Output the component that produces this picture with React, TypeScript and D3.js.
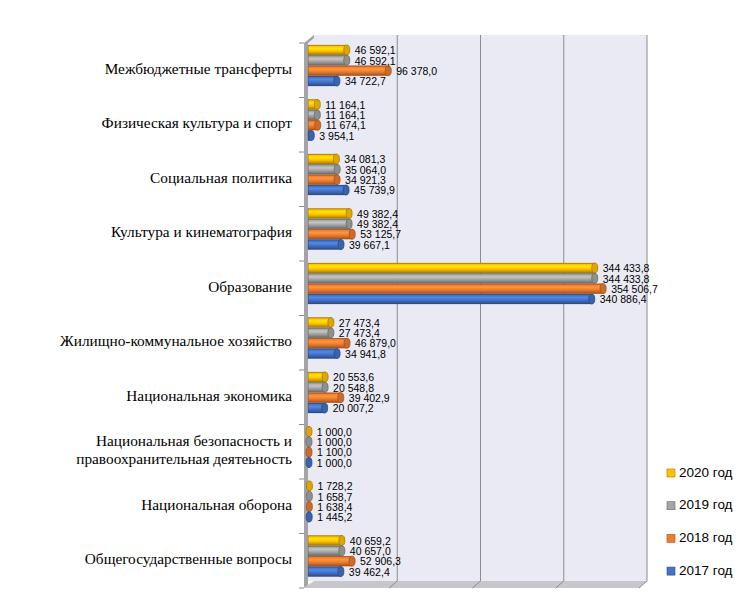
import React from "react";
import * as d3 from "d3";

const categories = [
  "Межбюджетные трансферты",
  "Физическая культура и спорт",
  "Социальная политика",
  "Культура и кинематография",
  "Образование",
  "Жилищно-коммунальное хозяйство",
  "Национальная экономика",
  "Национальная безопасность и\nправоохранительная деятеьность",
  "Национальная оборона",
  "Общегосударственные вопросы",
];

const series = ["2020 год", "2019 год", "2018 год", "2017 год"];

const values2020 = [46592.1, 11164.1, 34081.3, 49382.4, 344433.8, 27473.4, 20553.6, 1000.0, 1728.2, 40659.2];
const values2019 = [46592.1, 11164.1, 35064.0, 49382.4, 344433.8, 27473.4, 20548.8, 1000.0, 1658.7, 40657.0];
const values2018 = [96378.0, 11674.1, 34921.3, 53125.7, 354506.7, 46879.0, 39402.9, 1100.0, 1638.4, 52906.3];
const values2017 = [34722.7, 3954.1, 45739.9, 39667.1, 340886.4, 34941.8, 20007.2, 1000.0, 1445.2, 39462.4];

const seriesValues = [values2020, values2019, values2018, values2017];
const gridTicks = [100000, 200000, 300000, 400000];

const colors = ["#FFC000", "#A5A5A5", "#ED7D31", "#4472C4"];
const darks = ["#A67C00", "#6A6A6A", "#A4521A", "#2A4B88"];

const fmt = (v: number) => {
  const s = v.toFixed(1).replace(".", ",");
  const [i, f] = s.split(",");
  const ii = i.replace(/\B(?=(\d{3})+(?!\d))/g, "\u00A0");
  return ii + "," + f;
};

export default function App() {
  const W = 749, H = 603;
  const x = d3.scaleLinear().domain([0, 400000]).range([308, 641]);
  const dx = 6, dy = 7;
  const y0 = d3.scaleBand<string>().domain(categories).range([43, 588]);
  const y1 = d3.scaleBand<string>().domain(series).range([0, 41]).paddingInner(0.04);
  const backTop = 35, backBottom = 581;
  const frontBottom = 588;
  const bh = y1.bandwidth();
  const wallL = x(0) - 4;

  return (
    <svg width={W} height={H} style={{ position: "absolute", left: 0, top: 0 }}>
      <defs>
        {colors.map((c, i) => (
          <linearGradient key={i} id={"g" + i} x1="0" y1="0" x2="0" y2="1">
            <stop offset="0" stopColor={darks[i]} />
            <stop offset="0.12" stopColor={c} />
            <stop offset="0.35" stopColor={d3.color(c)!.brighter(0.5).toString()} />
            <stop offset="0.6" stopColor={c} />
            <stop offset="1" stopColor={darks[i]} />
          </linearGradient>
        ))}
      </defs>
      <rect width={W} height={H} fill="#fff" />
      {/* back wall */}
      <polygon
        points={`${x(0) + dx},${backTop} ${x(400000) + dx},${backTop} ${x(400000) + dx},${backBottom} ${x(0)},${backBottom} ${x(0)},${backTop + dy}`}
        fill="#EAEAF4"
      />
      {/* left wall */}
      <polygon
        points={`${wallL},${backTop + dy + 1} ${x(0) + dx},${backTop} ${x(0) + dx},${backTop + 3} ${x(0)},${backTop + dy + 1} ${x(0)},${frontBottom} ${wallL},${frontBottom}`}
        fill="#A3A3A8"
      />
      {/* floor */}
      <polygon
        points={`${x(0) + dx},${backBottom} ${x(400000) + dx},${backBottom} ${x(400000) - 2},${frontBottom} ${wallL - 1},${frontBottom}`}
        fill="#C6C6CC"
      />
      {/* gridlines */}
      {gridTicks.map((t) => (
        <g key={t}>
          <line x1={x(t) + dx} x2={x(t) + dx} y1={backTop} y2={backBottom} stroke="#8C8C8C" strokeWidth={1} />
          <line x1={x(t) + dx} x2={x(t) - 2} y1={backBottom} y2={frontBottom} stroke="#8C8C8C" strokeWidth={1} />
        </g>
      ))}
      {/* category ticks */}
      {categories.map((c) => (
        <line key={c} x1={wallL - 5} x2={wallL} y1={y0(c)!} y2={y0(c)!} stroke="#8C8C8C" />
      ))}
      <line x1={wallL - 5} x2={wallL} y1={frontBottom} y2={frontBottom} stroke="#8C8C8C" />
      {/* bars */}
      {categories.map((c, ci) => (
        <g key={c}>
          {series.map((s, si) => {
            const v = seriesValues[si][ci];
            const yy = y0(c)! + 2 + y1(s)!;
            const x0 = x(0);
            const x1 = Math.max(x(v), x0 + 1);
            const rx = 3;
            return (
              <g key={s}>
                <rect x={x0} y={yy} width={x1 - x0} height={bh} fill={`url(#g${si})`} />
                <line x1={x0} x2={x1} y1={yy + 0.3} y2={yy + 0.3} stroke={darks[si]} strokeWidth={0.6} />
                <line x1={x0} x2={x1} y1={yy + bh - 0.3} y2={yy + bh - 0.3} stroke={darks[si]} strokeWidth={0.6} />
                <line x1={x0 + 0.3} x2={x0 + 0.3} y1={yy} y2={yy + bh} stroke={darks[si]} strokeWidth={0.6} />
                <ellipse cx={x1} cy={yy + bh / 2} rx={rx} ry={bh / 2} fill={d3.color(colors[si])!.darker(0.4).toString()} stroke={darks[si]} strokeWidth={0.8} />
              </g>
            );
          })}
        </g>
      ))}
      {/* data labels */}
      {categories.map((c, ci) => (
        <g key={c}>
          {series.map((s, si) => {
            const v = seriesValues[si][ci];
            const yy = y0(c)! + 2 + y1(s)! + bh / 2 + 1.5;
            return (
              <text key={s} x={x(v) + 8} y={yy} dominantBaseline="middle" fontFamily="Liberation Sans, Arial, sans-serif" fontSize={10.5} fill="#000">
                {fmt(v)}
              </text>
            );
          })}
        </g>
      ))}
      {/* category labels */}
      {categories.map((c) => {
        const lines = c.split("\n");
        const cy = y0(c)! + y0.bandwidth() / 2;
        return (
          <text key={c} x={292} textAnchor="end" fontFamily="Liberation Serif, Times New Roman, serif" fontSize={15.3} fill="#000">
            {lines.map((l, i) => (
              <tspan key={i} x={292} y={cy + (i - (lines.length - 1) / 2) * 18} dominantBaseline="middle">
                {l}
              </tspan>
            ))}
          </text>
        );
      })}
      {/* legend */}
      {series.map((s, i) => {
        const ly = 473 + i * 32.7;
        return (
          <g key={s}>
            <rect x={667} y={ly - 4} width={8} height={8} fill={colors[i]} stroke={darks[i]} strokeWidth={0.6} />
            <text x={679} y={ly} dominantBaseline="middle" fontFamily="Liberation Sans, Arial, sans-serif" fontSize={13.5} fill="#000">
              {s}
            </text>
          </g>
        );
      })}
    </svg>
  );
}
